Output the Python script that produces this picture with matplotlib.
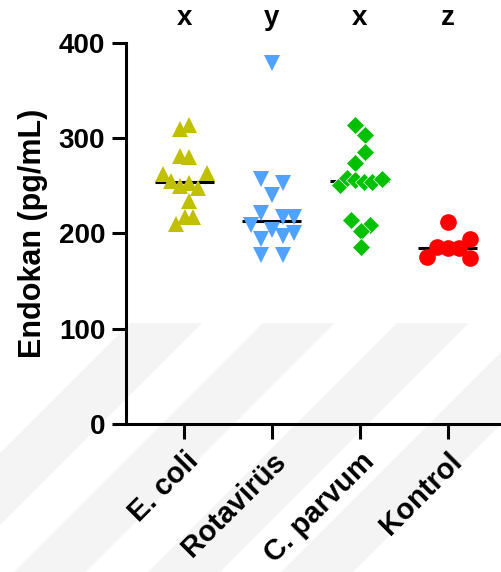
import numpy as np
import matplotlib
matplotlib.use('Agg')
import matplotlib.pyplot as plt
from matplotlib.patches import Polygon

plt.rcParams['font.family'] = ['Liberation Sans', 'DejaVu Sans']
plt.rcParams['font.weight'] = 'bold'

# Group names and significance letters
groups = ['E. coli', 'Rotavirüs', 'C. parvum', 'Kontrol']
letters = ['x', 'y', 'x', 'z']

# Endokan levels (pg/mL) per animal
ecoli = [313.7, 309.5, 280.7, 279.7, 262.2, 263.6, 254.9, 249.7, 253.1, 247.6,
         234.2, 217.5, 216.8, 209.8]
rota = [378.4, 256.7, 253.1, 239.9, 221.0, 216.8, 217.5, 208.4, 203.5, 197.2,
        200.0, 194.4, 177.0, 177.6]
cparvum = [313.7, 303.2, 285.0, 274.1, 250.7, 258.0, 256.0, 254.2, 254.2, 256.7,
           214.0, 208.8, 202.5, 186.0]
kontrol = [211.6, 175.5, 186.0, 184.3, 184.3, 194.0, 173.8]

# Horizontal scatter of the points inside each column
ecoli_dx = [0.06, -0.05, -0.05, 0.06, -0.24, 0.26, -0.15, -0.05, 0.06, 0.16,
            0.06, 0.01, 0.10, -0.09]
rota_dx = [0.0, -0.12, 0.125, 0.0, -0.12, 0.125, 0.25, -0.24, 0.0, 0.125,
           0.25, -0.12, -0.12, 0.125]
cparvum_dx = [-0.05, 0.06, 0.06, -0.05, -0.22, -0.14, -0.05, 0.05, 0.14, 0.255,
              -0.095, 0.115, 0.01, 0.01]
kontrol_dx = [0.0, -0.235, -0.12, 0.0, 0.125, 0.25, 0.25]

series = [ecoli, rota, cparvum, kontrol]
offsets = [ecoli_dx, rota_dx, cparvum_dx, kontrol_dx]
markers = ['^', 'v', 'D', 'o']
sizes = [12, 12, 9, 12]
colors = ['#C0C000', '#4FA2FF', '#00C000', '#FF0000']

fig = plt.figure(figsize=(5.02, 5.72), dpi=100)

# faint diagonal bands in the background
W, H = 502, 572
for a in [130, 263, 397, 530]:
    top = 323
    drop = H - top
    pts = [(a, top), (a + 72, top), (a + 72 - drop, H), (a - drop, H)]
    pts = [(x / W, 1 - y / H) for x, y in pts]
    fig.patches.append(Polygon(pts, closed=True, transform=fig.transFigure,
                               facecolor='#f4f4f4', edgecolor='none', zorder=-5))

ax = fig.add_axes([126 / W, (H - 424) / H, (W - 126) / W, (424 - 42.7) / H])
ax.patch.set_alpha(0)

for i, (vals, dx) in enumerate(zip(series, offsets)):
    x = i + np.array(dx)
    ax.plot(x, vals, linestyle='none', marker=markers[i], markersize=sizes[i],
            color=colors[i], markeredgecolor='white' if markers[i] == 'D' else colors[i],
            markeredgewidth=0.5 if markers[i] == 'D' else 0, zorder=3, clip_on=False)
    med = np.median(vals)
    ax.plot([i - 0.336, i + 0.336], [med, med], color='black', lw=2.2,
            solid_capstyle='butt', zorder=2)

# significance letters above each column
for i, s in enumerate(letters):
    ax.text(i, 1.046, s, transform=ax.get_xaxis_transform(), ha='center',
            va='baseline', fontsize=20, fontweight='bold')

ax.set_xlim(-0.661, 3.62)
ax.set_ylim(0, 400)
ax.set_yticks([0, 100, 200, 300, 400])
ax.set_xticks(range(len(groups)))
ax.set_xticklabels(groups, rotation=45, ha='right', rotation_mode='anchor')

for side in ['top', 'right']:
    ax.spines[side].set_visible(False)
for side in ['left', 'bottom']:
    ax.spines[side].set_linewidth(2.2)

ax.tick_params(axis='y', length=10, width=2.2, pad=5, labelsize=20)
ax.tick_params(axis='x', length=10.5, width=2.2, pad=6, labelsize=21)
for t in ax.get_xticklabels() + ax.get_yticklabels():
    t.set_fontweight('bold')

ax.set_ylabel('Endokan (pg/mL)', fontsize=22, fontweight='bold')
ax.yaxis.set_label_coords(-0.207, 0.5)

fig.savefig('out.png', dpi=100)
